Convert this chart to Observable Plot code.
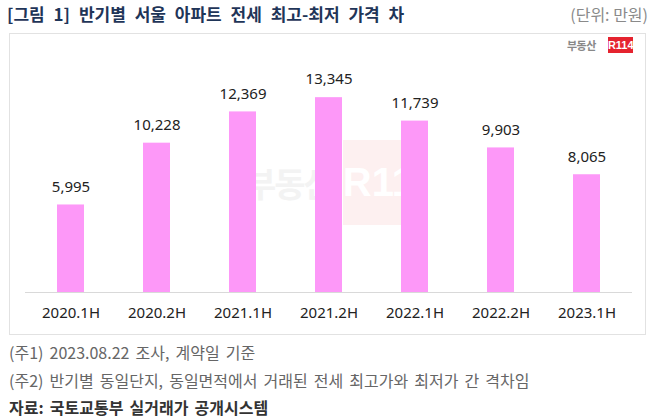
<!DOCTYPE html>
<html>
<head>
<meta charset="utf-8">
<script src="https://cdn.jsdelivr.net/npm/d3@7"></script>
<script src="https://cdn.jsdelivr.net/npm/@observablehq/plot@0.6"></script>
<style>
  html, body { margin: 0; padding: 0; background: #fff; }
  body { width: 658px; height: 419px; position: relative; overflow: hidden;
         font-family: "Noto Sans CJK KR", "Noto Sans", sans-serif; }
  #title { position: absolute; left: 7px; top: 1px; font-size: 17px; font-weight: bold;
           color: #1f3558; word-spacing: 5px; white-space: nowrap; }
  #unit { position: absolute; right: 10px; top: 2px; font-size: 16px; color: #8a8a8a; white-space: nowrap; }
  #box { position: absolute; left: 9px; top: 33px; width: 637px; height: 302px;
         border: 1px solid #e2e2e2; box-sizing: border-box; }
  #chart { position: absolute; left: 0; top: 33px; }
  #logo { position: absolute; left: 567px; top: 37px; height: 16px; display: flex; align-items: center; }
  #logo .t { font-size: 11px; color: #888; font-weight: bold; letter-spacing: -0.5px; margin-right: 12px; }
  #logo .r { background: #e5232f; color: #fff; font-size: 11px; font-weight: bold; width: 25px; height: 16px;
             line-height: 16px; text-align: center; font-family: "Liberation Sans", sans-serif; }
  #wm { position: absolute; left: 245px; top: 140px; height: 85px; display: flex; align-items: center; }
  #wm .t { font-size: 34px; color: #f3f3f3; font-weight: bold; margin-right: 10px; letter-spacing: -2px; }
  #wm .r { background: #fdf0f0; color: #fff; font-size: 40px; font-weight: bold; width: 74px; height: 85px;
           line-height: 85px; text-align: center; font-family: "Liberation Sans", sans-serif; }
  .note { position: absolute; left: 9px; font-size: 16px; color: #666; white-space: nowrap; word-spacing: 2.5px; }
  #n1 { top: 340px; }
  #n2 { top: 368px; }
  #n3 { top: 395px; font-weight: bold; color: #333; }
</style>
</head>
<body>
<div id="title">[그림 1] 반기별 서울 아파트 전세 최고-최저 가격 차</div>
<div id="unit">(단위: 만원)</div>
<div id="box"></div>
<div id="wm"><span class="t">부동산</span><span class="r">R114</span></div>
<div id="chart"></div>
<div id="logo"><span class="t">부동산</span><span class="r">R114</span></div>
<div class="note" id="n1">(주1) 2023.08.22 조사, 계약일 기준</div>
<div class="note" id="n2">(주2) 반기별 동일단지, 동일면적에서 거래된 전세 최고가와 최저가 간 격차임</div>
<div class="note" id="n3">자료: 국토교통부 실거래가 공개시스템</div>
<script>
const periods = ["2020.1H", "2020.2H", "2021.1H", "2021.2H", "2022.1H", "2022.2H", "2023.1H"];
const gaps = [5995, 10228, 12369, 13345, 11739, 9903, 8065];

const data = periods.map((p, i) => ({period: p, value: gaps[i]}));
const fmt = d3.format(",");

const plot = Plot.plot({
  width: 658,
  height: 300,
  marginLeft: 25,
  marginRight: 26,
  marginTop: 40,
  marginBottom: 41,
  style: {background: "transparent", fontFamily: "'Noto Sans', 'Noto Sans CJK KR', sans-serif", fontSize: "15px", color: "#222"},
  x: {domain: periods, paddingInner: 0.69, paddingOuter: 0.345, label: null, tickSize: 0, tickPadding: 15},
  y: {domain: [0, 15000], axis: null},
  marks: [
    Plot.barY(data, {x: "period", y: "value", fill: "#fd98f8"}),
    Plot.ruleY([0], {stroke: "#d9d9d9", strokeWidth: 1}),
    Plot.text(data, {x: "period", y: "value", text: d => fmt(d.value), dy: -18, lineAnchor: "middle",
                     fill: "#222", fontSize: 15})
  ]
});
document.getElementById("chart").appendChild(plot);
</script>
</body>
</html>
